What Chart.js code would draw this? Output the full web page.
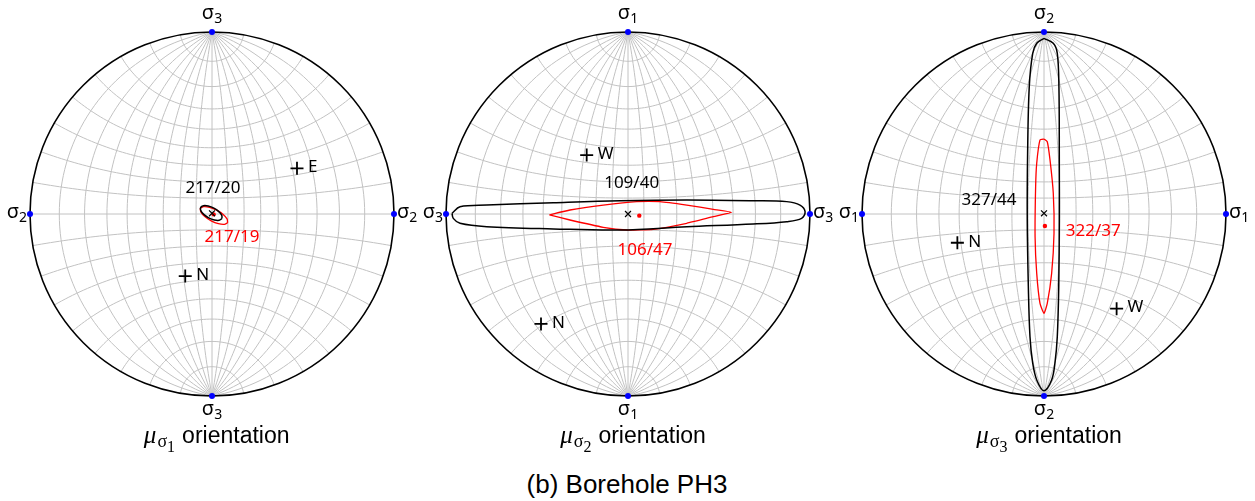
<!DOCTYPE html>
<html>
<head>
<meta charset="utf-8">
<script src="https://cdn.jsdelivr.net/npm/chart.js@4.4.1/dist/chart.umd.min.js"></script>
<style>
  html, body { margin: 0; padding: 0; background: #fff; }
  #page { position: relative; width: 1255px; height: 501px; overflow: hidden; }
  canvas { position: absolute; top: 0; }
  .cap { position: absolute; top: 421px; font: 23px "Liberation Sans", Arial, sans-serif; line-height: 23px;
         white-space: nowrap; transform: translateX(-50%); color: #000; }
  .cap .mu { font: italic 25px "Liberation Serif", serif; }
  .cap .s { font: 18px "Liberation Serif", serif; position: relative; top: 4px; margin-left: 1px; }
  .cap .d { font: 16px "Liberation Serif", serif; position: relative; top: 9px; margin-right: 7px; }
  #title { position: absolute; left: 627px; top: 471px; transform: translateX(-50%); white-space: nowrap;
           font: 26px "Liberation Sans", Arial, sans-serif; line-height: 26px; }
</style>
</head>
<body>
<div id="page">
  <canvas id="net0" width="420" height="425"></canvas>
  <canvas id="net1" width="420" height="425"></canvas>
  <canvas id="net2" width="420" height="425"></canvas>
  <div class="cap" id="cap0"></div>
  <div class="cap" id="cap1"></div>
  <div class="cap" id="cap2"></div>
  <div id="title">(b) Borehole PH3</div>
</div>
<script>
// Stereonets (Wulff net) of the mean principal stress orientations
// All positions below are in net units (primitive circle radius = 1)

const panelDigits = ['1', '2', '3'];          // mu_sigma_i captions
const poleNS = ['3', '1', '2'];               // sigma index at top / bottom of each net
const poleEW = ['2', '3', '1'];               // sigma index at left / right of each net

const meanBlack = [[0.000, 0.004], [0.000, 0.000], [0.000, 0.004]];
const meanRed = [[0.009, -0.002], [0.062, -0.009], [0.005, -0.066]];
const labelBlack = ['217/20', '109/40', '327/44'];
const labelRed = ['217/19', '106/47', '322/37'];
const labelBlackAt = [[0.005, 0.141], [0.020, 0.169], [-0.302, 0.077]];
const labelRedAt = [[0.110, -0.125], [0.093, -0.198], [0.271, -0.092]];

const geoNames = [['E', 'N'], ['W', 'N'], ['N', 'W']];
const geoPoints = [
  [[0.467, 0.251], [-0.147, -0.341]],
  [[-0.227, 0.324], [-0.478, -0.604]],
  [[-0.476, -0.158], [0.399, -0.520]]
];

// confidence contours
const blackContour1 = [[0.0544, -0.0253], [0.0396, -0.0346], [0.0132, -0.0330], [-0.0181, -0.0214], [-0.0451, -0.0022],
  [-0.0615, 0.0187], [-0.0621, 0.0363], [-0.0473, 0.0456], [-0.0209, 0.0440], [0.0104, 0.0324], [0.0374, 0.0132], [0.0538, -0.0077]];
const redContour1 = [[0.0857, -0.0478], [0.0681, -0.0571], [0.0352, -0.0533], [-0.0044, -0.0374], [-0.0396, -0.0137],
  [-0.0615, 0.0115], [-0.0637, 0.0313], [-0.0462, 0.0407], [-0.0132, 0.0368], [0.0264, 0.0209], [0.0615, -0.0027], [0.0835, -0.0280]];
const blackContour2 = [[-0.967, 0.004], [-0.960, -0.024], [-0.923, -0.051], [-0.776, -0.070], [-0.410, -0.082], [-0.044, -0.088],
  [0.323, -0.070], [0.688, -0.055], [0.872, -0.042], [0.954, -0.024], [0.973, 0.013], [0.945, 0.049], [0.872, 0.068],
  [0.688, 0.073], [0.323, 0.077], [-0.044, 0.073], [-0.410, 0.062], [-0.776, 0.049], [-0.923, 0.040]];
const redContour2 = [[-0.432, -0.005], [-0.319, -0.033], [-0.136, -0.073], [-0.007, -0.088], [0.139, -0.084], [0.323, -0.051],
  [0.469, -0.015], [0.570, 0.009], [0.469, 0.026], [0.323, 0.049], [0.176, 0.068], [0.048, 0.068], [-0.136, 0.049], [-0.319, 0.022]];
const blackContour3 = [[0, 0.965], [0.051, 0.938], [0.073, 0.883], [0.082, 0.699], [0.084, 0.334], [0.084, -0.033], [0.081, -0.400],
  [0.073, -0.674], [0.060, -0.820], [0.042, -0.912], [0, -0.971], [-0.040, -0.912], [-0.062, -0.820], [-0.077, -0.674],
  [-0.086, -0.400], [-0.092, -0.033], [-0.090, 0.334], [-0.081, 0.699], [-0.062, 0.883], [-0.040, 0.938]];
const redContour3 = [[0, 0.412], [0.018, 0.397], [0.033, 0.297], [0.051, 0.114], [0.055, -0.106], [0.042, -0.326], [0.018, -0.491],
  [0, -0.546], [-0.022, -0.491], [-0.040, -0.326], [-0.049, -0.125], [-0.046, 0.150], [-0.040, 0.279], [-0.022, 0.407]];

const blackContours = [blackContour1, blackContour2, blackContour3];
const redContours = [redContour1, redContour2, redContour3];

// layout
const R = 182;                       // primitive radius in px
const CW = 420, CH = 425, CY = 214;  // canvas size, centre row
const centersX = [211.7, 628, 1044];
const FONT = '"Noto Sans", "DejaVu Sans", sans-serif';
const GRID = '#c2c2c2';

const pts = (arr) => arr.map(p => ({ x: p[0], y: p[1] }));
const closed = (arr) => pts(arr.concat([arr[0]]));

// Wulff net: great circles through the top/bottom poles and small circles about that axis
const netPlugin = {
  id: 'net',
  beforeDatasetsDraw(chart) {
    const { ctx, scales: { x, y } } = chart;
    const line = (list) => {
      ctx.beginPath();
      list.forEach((p, k) => {
        const X = x.getPixelForValue(p[0]), Y = y.getPixelForValue(p[1]);
        k ? ctx.lineTo(X, Y) : ctx.moveTo(X, Y);
      });
      ctx.stroke();
    };
    ctx.save();
    ctx.strokeStyle = GRID;
    ctx.lineWidth = 1;
    const rad = Math.PI / 180;
    for (let d = 10; d < 90; d += 10) {
      // great circle crossing the horizontal diameter d degrees from centre
      const x0 = Math.tan(d * rad / 2);
      const c = (x0 * x0 - 1) / (2 * x0), rr = (x0 * x0 + 1) / (2 * x0);
      const t1 = Math.atan2(1, -c), t2 = Math.atan2(-1, -c);
      [1, -1].forEach(s => {
        const arc = [];
        for (let k = 0; k <= 80; k++) {
          const t = t1 + (t2 - t1) * k / 80;
          arc.push([s * (c + rr * Math.cos(t)), rr * Math.sin(t)]);
        }
        line(arc);
      });
      // small circle d degrees from the top / bottom pole
      const a = d * rad, kc = 1 / Math.cos(a), tr = Math.tan(a);
      const th1 = Math.atan2(Math.cos(a) - kc, Math.sin(a)), th2 = -Math.PI - th1;
      [1, -1].forEach(s => {
        const arc = [];
        for (let k = 0; k <= 80; k++) {
          const th = th1 + (th2 - th1) * k / 80;
          arc.push([tr * Math.cos(th), s * (kc + tr * Math.sin(th))]);
        }
        line(arc);
      });
    }
    line([[0, 1], [0, -1]]);
    line([[-1, 0], [1, 0]]);
    // primitive
    ctx.strokeStyle = '#000';
    ctx.lineWidth = 1.6;
    ctx.beginPath();
    ctx.arc(x.getPixelForValue(0), y.getPixelForValue(0), x.getPixelForValue(1) - x.getPixelForValue(0), 0, 2 * Math.PI);
    ctx.stroke();
    ctx.restore();
  }
};

function sigmaLabel(ctx, digit, X, Y, align) {
  ctx.font = '20px ' + FONT;
  const w1 = ctx.measureText('σ').width;
  ctx.font = '14px ' + FONT;
  const w2 = ctx.measureText(digit).width;
  const w = w1 + w2;
  let x0 = X - w / 2;
  if (align === 'right') x0 = X - w;
  if (align === 'left') x0 = X;
  ctx.textAlign = 'left';
  ctx.textBaseline = 'middle';
  ctx.font = '20px ' + FONT;
  ctx.fillText('σ', x0, Y - 2);
  ctx.font = '14px ' + FONT;
  ctx.fillText(digit, x0 + w1, Y + 4);
}

const labelPlugin = {
  id: 'labels',
  afterDatasetsDraw(chart) {
    const i = chart.options.plugins.labels.index;
    const { ctx, scales: { x, y } } = chart;
    const px = v => x.getPixelForValue(v), py = v => y.getPixelForValue(v);
    ctx.save();
    ctx.fillStyle = '#000';
    sigmaLabel(ctx, poleNS[i], px(0), py(1) - 17, 'center');
    sigmaLabel(ctx, poleNS[i], px(0), py(-1) + 15, 'center');
    sigmaLabel(ctx, poleEW[i], px(-1) - 3, py(0), 'right');
    sigmaLabel(ctx, poleEW[i], px(1) + 3, py(0), 'left');

    ctx.font = '17px ' + FONT;
    ctx.textBaseline = 'middle';
    ctx.textAlign = 'center';
    ctx.fillText(labelBlack[i], px(labelBlackAt[i][0]), py(labelBlackAt[i][1]));
    ctx.fillStyle = '#ff0000';
    ctx.fillText(labelRed[i], px(labelRedAt[i][0]), py(labelRedAt[i][1]));

    ctx.fillStyle = '#000';
    ctx.textAlign = 'left';
    geoPoints[i].forEach((p, k) => {
      ctx.fillText(geoNames[i][k], px(p[0]) + 11, py(p[1]) - 1);
    });
    ctx.restore();
  }
};

function makeNet(i) {
  const canvas = document.getElementById('net' + i);
  canvas.style.left = (centersX[i] - CW / 2) + 'px';
  new Chart(canvas, {
    type: 'scatter',
    data: {
      datasets: [
        { data: closed(blackContours[i]), showLine: true, borderColor: '#000', borderWidth: 1.5,
          pointRadius: 0, tension: 0.35 },
        { data: closed(redContours[i]), showLine: true, borderColor: '#ff0000', borderWidth: 1.3,
          pointRadius: 0, tension: 0.15 },
        { data: pts([meanBlack[i]]), pointStyle: 'crossRot', pointRadius: 4.2, borderColor: '#000', borderWidth: 1.2 },
        { data: pts([meanRed[i]]), pointStyle: 'circle', pointRadius: 2.2, backgroundColor: '#ff0000', borderWidth: 0 },
        { data: pts(geoPoints[i]), pointStyle: 'cross', pointRadius: 6.5, borderColor: '#000', borderWidth: 1.8 },
        { data: pts([[0, 1], [0, -1], [-1, 0], [1, 0]]), pointStyle: 'circle', pointRadius: 3,
          backgroundColor: '#0000ff', borderWidth: 0 }
      ]
    },
    options: {
      responsive: false,
      animation: false,
      devicePixelRatio: 1,
      events: [],
      layout: { padding: 0, autoPadding: false },
      scales: {
        x: { type: 'linear', min: -CW / 2 / R, max: CW / 2 / R, display: false },
        y: { type: 'linear', min: -(CH - CY) / R, max: CY / R, display: false }
      },
      plugins: { legend: { display: false }, tooltip: { enabled: false }, labels: { index: i } }
    },
    plugins: [netPlugin, labelPlugin]
  });

  const cap = document.getElementById('cap' + i);
  cap.style.left = (centersX[i] + 5) + 'px';
  cap.innerHTML = '<span class="mu">μ</span><span class="s">σ</span><span class="d">' + panelDigits[i] + '</span>orientation';
}

[0, 1, 2].forEach(makeNet);
</script>
</body>
</html>
